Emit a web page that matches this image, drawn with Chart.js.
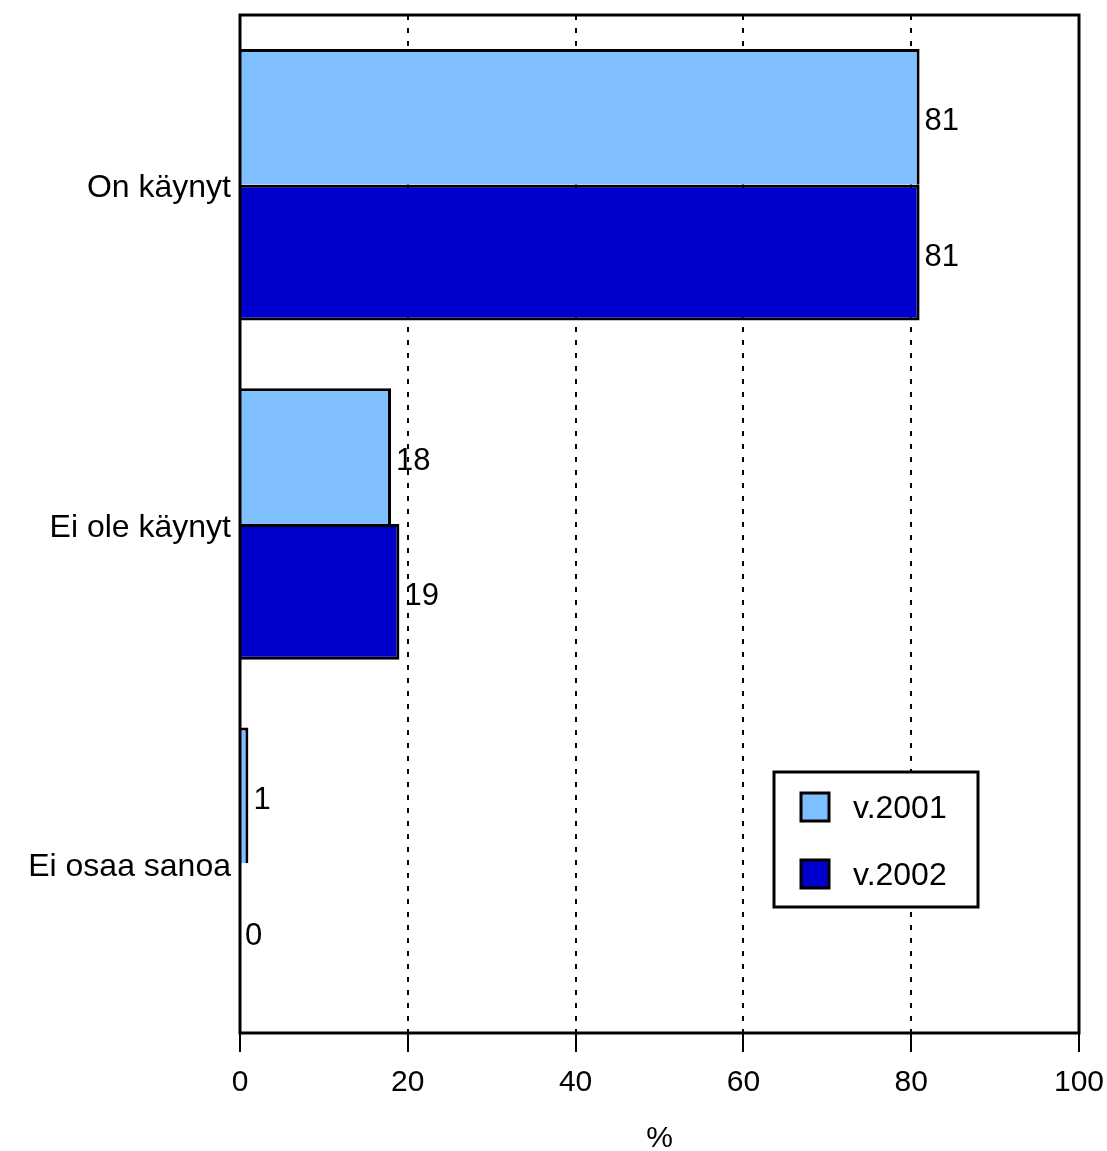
<!DOCTYPE html>
<html>
<head>
<meta charset="utf-8">
<script src="https://cdn.jsdelivr.net/npm/chart.js@4"></script>
<style>
  html, body { margin: 0; padding: 0; background: #fff; }
  #wrap { width: 1107px; height: 1151px; }
</style>
</head>
<body>
<div id="wrap"><canvas id="canvas" width="1107" height="1151"></canvas></div>
<script>
// Kategoriat ja arvot
const categories = ['On käynyt', 'Ei ole käynyt', 'Ei osaa sanoa'];
const seriesNames = ['v.2001', 'v.2002'];
const values2001 = [81, 18, 1];
const values2002 = [81, 19, 0];
const xTicks = [0, 20, 40, 60, 80, 100];
const axisTitle = '%';

const FONT = '"Liberation Sans", Arial, sans-serif';

// Kehys kaavioalueen ympärille
const framePlugin = {
    id: 'frame',
    afterDraw(chart) {
        const { ctx, chartArea: a } = chart;
        ctx.save();
        ctx.strokeStyle = '#000';
        ctx.lineWidth = 3;
        ctx.strokeRect(a.left, a.top, a.right - a.left, a.bottom - a.top);
        ctx.restore();
    }
};

// Arvot palkkien perään
const labelPlugin = {
    id: 'barLabels',
    afterDatasetsDraw(chart) {
        const ctx = chart.ctx;
        ctx.save();
        ctx.font = '31px ' + FONT;
        ctx.fillStyle = '#000';
        ctx.textBaseline = 'middle';
        ctx.textAlign = 'left';
        chart.data.datasets.forEach((ds, i) => {
            chart.getDatasetMeta(i).data.forEach((bar, j) => {
                ctx.fillText(String(ds.data[j]), bar.x + 5, bar.y + 5);
            });
        });
        ctx.restore();
    }
};

// Selite kaavion sisälle oikeaan alakulmaan
const legendPlugin = {
    id: 'boxLegend',
    afterDraw(chart) {
        const ctx = chart.ctx;
        const x = 774, y = 772, w = 204, h = 135;
        ctx.save();
        ctx.fillStyle = '#fff';
        ctx.fillRect(x, y, w, h);
        ctx.strokeStyle = '#000';
        ctx.lineWidth = 3;
        ctx.strokeRect(x, y, w, h);
        ctx.font = '32px ' + FONT;
        ctx.textBaseline = 'middle';
        chart.data.datasets.forEach((ds, i) => {
            const sy = y + 21 + i * 67;
            ctx.fillStyle = ds.backgroundColor;
            ctx.fillRect(x + 27, sy, 28, 28);
            ctx.lineWidth = 3;
            ctx.strokeRect(x + 27, sy, 28, 28);
            ctx.fillStyle = '#000';
            ctx.fillText(ds.label, x + 79, sy + 16);
        });
        ctx.restore();
    }
};

const ctx = document.getElementById('canvas').getContext('2d');
new Chart(ctx, {
    type: 'bar',
    data: {
        labels: categories,
        datasets: [{
            label: seriesNames[0],
            data: values2001,
            backgroundColor: '#80BFFF',
            borderColor: '#000',
            borderWidth: { top: 3, right: 3, bottom: 0, left: 0 },
            borderSkipped: false
        }, {
            label: seriesNames[1],
            data: values2002,
            backgroundColor: '#0000CC',
            borderColor: '#000',
            borderWidth: { top: 3, right: 3, bottom: 3, left: 0 },
            borderSkipped: false
        }]
    },
    options: {
        indexAxis: 'y',
        responsive: false,
        animation: false,
        events: [],
        layout: { padding: { top: 15, right: 28, left: 0, bottom: 0 } },
        datasets: { bar: { categoryPercentage: 0.8, barPercentage: 1.0 } },
        plugins: {
            legend: { display: false },
            tooltip: { enabled: false }
        },
        scales: {
            x: {
                min: 0,
                max: 100,
                afterBuildTicks(scale) {
                    scale.ticks = xTicks.map(v => ({ value: v }));
                },
                afterFit(scale) {
                    scale.height = 118;
                    scale.paddingLeft = 0;
                    scale.paddingRight = 0;
                },
                grid: {
                    color: c => (c.tick && (c.tick.value === 0 || c.tick.value === 100)) ? 'rgba(0,0,0,0)' : '#000',
                    tickColor: '#000',
                    lineWidth: 2,
                    tickWidth: 2,
                    tickBorderDash: [],
                    tickLength: 19,
                    drawOnChartArea: true
                },
                border: { display: false, dash: [5, 8] },
                ticks: {
                    color: '#000',
                    font: { size: 30, family: FONT },
                    padding: 13,
                    maxRotation: 0
                },
                title: {
                    display: true,
                    text: axisTitle,
                    color: '#000',
                    font: { size: 30, family: FONT, lineHeight: 0.85 },
                    padding: { top: 19, bottom: 0 }
                }
            },
            y: {
                afterFit(scale) {
                    scale.width = 240;
                    scale.paddingTop = 0;
                    scale.paddingBottom = 0;
                },
                grid: { display: false, drawTicks: false },
                border: { display: false },
                ticks: {
                    color: '#000',
                    font: { size: 32, family: FONT },
                    padding: 9,
                    labelOffset: 4
                }
            }
        }
    },
    plugins: [framePlugin, labelPlugin, legendPlugin]
});
</script>
</body>
</html>
